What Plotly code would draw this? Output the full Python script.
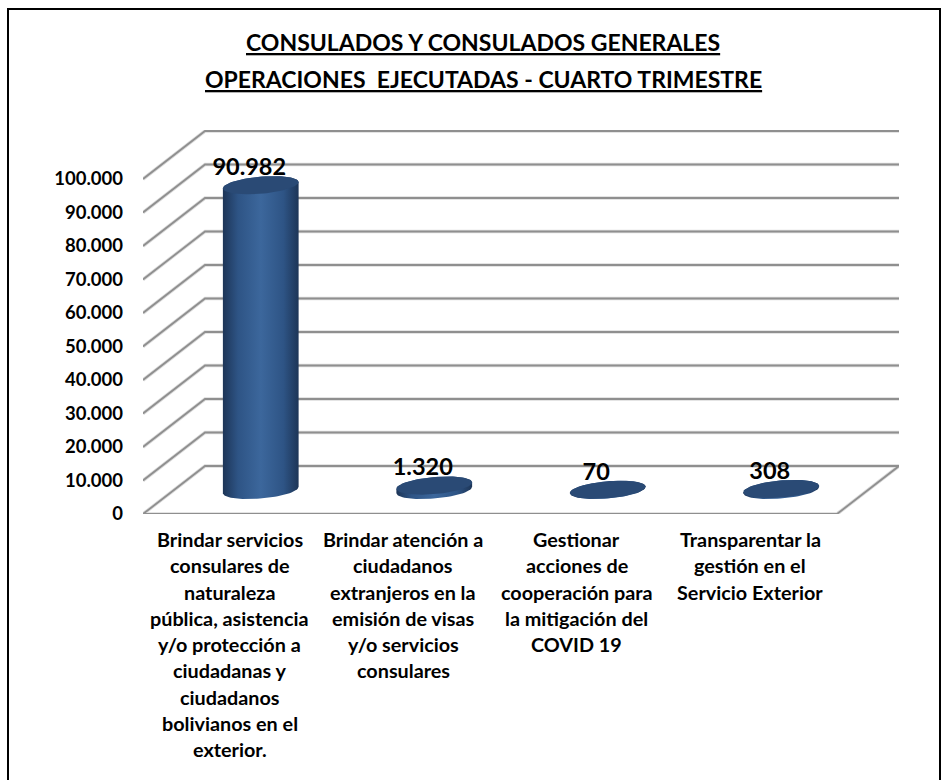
"""Consulados chart: 3D-looking cylinders on a plain 2D plotly axis"""

import numpy as np
import plotly.graph_objects as go

TITLE_LINES = [
    'CONSULADOS Y CONSULADOS GENERALES',
    'OPERACIONES\u00a0 EJECUTADAS - CUARTO TRIMESTRE',
]
CATEGORIES = [
    ['Brindar servicios', 'consulares de', 'naturaleza', 'pública, asistencia', 'y/o protección a',
     'ciudadanas y', 'ciudadanos', 'bolivianos en el', 'exterior.'],
    ['Brindar atención a', 'ciudadanos', 'extranjeros en la', 'emisión de visas', 'y/o servicios', 'consulares'],
    ['Gestionar', 'acciones de', 'cooperación para', 'la mitigación del', 'COVID 19'],
    ['Transparentar la', 'gestión en el', 'Servicio Exterior'],
]
VALUES = [90982, 1320, 70, 308]
VALUE_LABELS = ['90.982', '1.320', '70', '308']
TICK_VALUES = [0, 10000, 20000, 30000, 40000, 50000, 60000, 70000, 80000, 90000, 100000]
TICK_LABELS = ['0', '10.000', '20.000', '30.000', '40.000', '50.000', '60.000', '70.000', '80.000', '90.000', '100.000']

# Scales of the fake 3D box
PX_PER_CAT = 173.5
PX_PER_VALUE = 0.00335
DEPTH_X = 62 / PX_PER_CAT
DEPTH_Y = 48 / PX_PER_VALUE

FONT = 'Lato, sans-serif'
GRID_COLOR = '#8f8f8f'
GRID_SHADOW = '#dcdcdc'

LEFT, RIGHT, TOP, BOTTOM = 143, 47, 130, 266
WIDTH, HEIGHT = 946, 780
PLOT_W = WIDTH - LEFT - RIGHT
PLOT_H = HEIGHT - TOP - BOTTOM


def ellipse_arc(xc, yc, t):
    """Tilted ellipse seen from above, offsets in pixels converted to data units"""
    a, b, tilt = 38, 8.5, np.radians(5)
    dx = a * np.cos(t) * np.cos(tilt) - b * np.sin(t) * np.sin(tilt)
    dy = a * np.cos(t) * np.sin(tilt) + b * np.sin(t) * np.cos(tilt)
    return xc + dx / PX_PER_CAT, yc + dy / PX_PER_VALUE


fig = go.Figure()

# Walls and floor: a diagonal from the front axis, then the long line on the back wall
x_back_end = len(CATEGORIES) - 0.5 + DEPTH_X
for color, width in [(GRID_SHADOW, 3.5), (GRID_COLOR, 1.8)]:
    for tick in TICK_VALUES:
        fig.add_trace(go.Scatter(
            x=[-0.5, -0.5 + DEPTH_X, x_back_end],
            y=[tick, tick + DEPTH_Y, tick + DEPTH_Y],
            mode='lines',
            line=dict(color=color, width=width),
            cliponaxis=False,
            hoverinfo='skip',
            showlegend=False,
        ))
    fig.add_trace(go.Scatter(
        x=[-0.5, len(CATEGORIES) - 0.5, x_back_end],
        y=[0, 0, DEPTH_Y],
        mode='lines',
        line=dict(color=color, width=width),
        cliponaxis=False,
        hoverinfo='skip',
        showlegend=False,
    ))

# Cylinders
for idx, value in enumerate(VALUES):
    xc = idx + DEPTH_X / 2
    yc = DEPTH_Y / 2
    low_x, low_y = ellipse_arc(xc, yc, np.linspace(np.pi, 2 * np.pi, 40))
    up_x, up_y = ellipse_arc(xc, yc + value, np.linspace(0, np.pi, 40))
    fig.add_trace(go.Scatter(
        x=np.concatenate([low_x, up_x]),
        y=np.concatenate([low_y, up_y]),
        mode='lines',
        line=dict(width=0),
        fill='toself',
        fillgradient=dict(
            type='horizontal',
            colorscale=[[0, '#1d3557'], [0.2, '#2e5485'], [0.5, '#3c679c'], [0.8, '#2e5485'], [1, '#1d3557']],
        ),
        hoverinfo='skip',
        showlegend=False,
    ))
    top_x, top_y = ellipse_arc(xc, yc + value, np.linspace(0, 2 * np.pi, 80))
    fig.add_trace(go.Scatter(
        x=top_x,
        y=top_y,
        mode='lines',
        line=dict(width=0),
        fill='toself',
        fillcolor='#2a4a75',
        hoverinfo='skip',
        showlegend=False,
    ))

# Value labels sit above the top face, pushed a bit to the left
fig.add_trace(go.Scatter(
    x=[idx + DEPTH_X / 2 - 11.5 / PX_PER_CAT for idx in range(len(VALUES))],
    y=[value + DEPTH_Y / 2 + 16 / PX_PER_VALUE for value in VALUES],
    mode='text',
    text=VALUE_LABELS,
    textposition='middle center',
    textfont=dict(family=FONT, size=23.5, color='#000000', weight=700),
    hoverinfo='skip',
    showlegend=False,
))

annotations = []
for i, line in enumerate(TITLE_LINES):
    annotations.append(dict(
        text=f'<u>{line}</u>',
        xref='paper', yref='paper',
        x=(483 - LEFT) / PLOT_W, y=1,
        yshift=TOP - 42 - i * 36.5,
        showarrow=False,
        xanchor='center', yanchor='middle',
        font=dict(family=FONT, size=23, color='#000000', weight=700),
    ))
for idx, lines in enumerate(CATEGORIES):
    for i, line in enumerate(lines):
        annotations.append(dict(
            text=line,
            xref='x', yref='paper',
            x=idx, y=0,
            yshift=-25 - i * 26.25,
            showarrow=False,
            xanchor='center', yanchor='middle',
            font=dict(family=FONT, size=19.8, color='#000000', weight=700),
        ))

fig.update_layout(
    width=WIDTH,
    height=HEIGHT,
    margin=dict(l=LEFT, r=RIGHT, t=TOP, b=BOTTOM),
    plot_bgcolor='#FFFFFF',
    paper_bgcolor='#FFFFFF',
    showlegend=False,
    xaxis=dict(
        range=[-0.5, x_back_end],
        showgrid=False,
        zeroline=False,
        showline=False,
        tickvals=list(range(len(CATEGORIES))),
        showticklabels=False,
        ticks='',
    ),
    yaxis=dict(
        range=[0, PLOT_H / PX_PER_VALUE],
        showgrid=False,
        zeroline=False,
        showline=False,
        tickvals=TICK_VALUES,
        ticktext=TICK_LABELS,
        ticklabelstandoff=19,
        ticks='',
        tickfont=dict(family=FONT, size=18.5, color='#000000', weight=700),
    ),
    annotations=annotations,
    # Outer frame of the picture, open at the bottom edge of the page
    shapes=[dict(
        type='rect',
        xref='paper', yref='paper',
        x0=(8 - LEFT) / PLOT_W,
        x1=(940 - LEFT) / PLOT_W,
        y0=-(BOTTOM + 20) / PLOT_H,
        y1=1 + (TOP - 9) / PLOT_H,
        line=dict(color='#000000', width=2),
    )],
)

fig.write_html("out.html", config={'displayModeBar': False}, post_script="document.body.style.margin='0';")
